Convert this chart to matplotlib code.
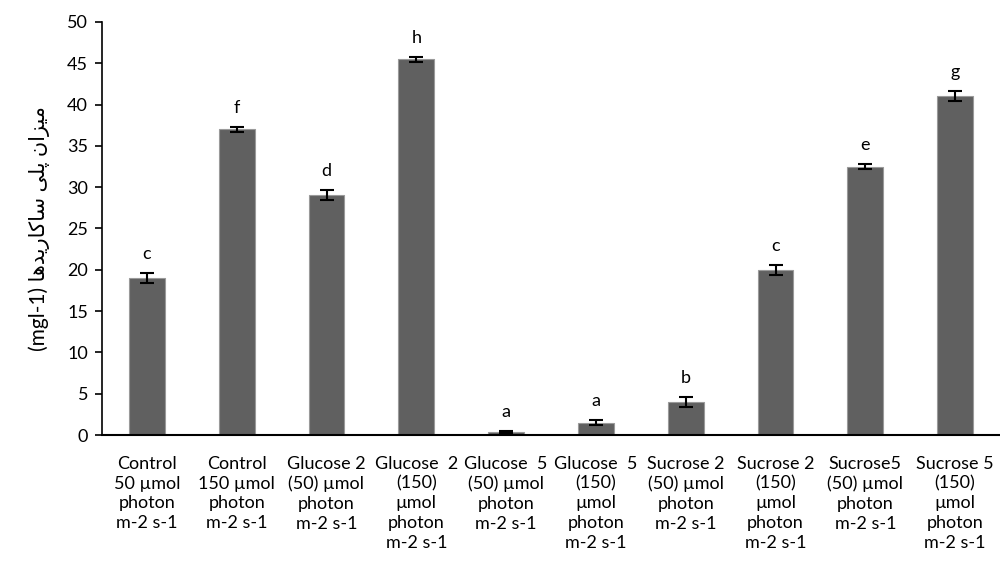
import matplotlib
matplotlib.use("Agg")
import matplotlib.pyplot as plt
import numpy as np

categories = [
    "Control\n50 µmol\nphoton\nm-2 s-1",
    "Control\n150 µmol\nphoton\nm-2 s-1",
    "Glucose 2\n(50) µmol\nphoton\nm-2 s-1",
    "Glucose  2\n(150)\nµmol\nphoton\nm-2 s-1",
    "Glucose  5\n(50) µmol\nphoton\nm-2 s-1",
    "Glucose  5\n(150)\nµmol\nphoton\nm-2 s-1",
    "Sucrose 2\n(50) µmol\nphoton\nm-2 s-1",
    "Sucrose 2\n(150)\nµmol\nphoton\nm-2 s-1",
    "Sucrose5\n(50) µmol\nphoton\nm-2 s-1",
    "Sucrose 5\n(150)\nµmol\nphoton\nm-2 s-1",
]
values = [19.0, 37.0, 29.0, 45.5, 0.4, 1.5, 4.0, 20.0, 32.5, 41.0]
errors = [0.6, 0.3, 0.6, 0.3, 0.1, 0.3, 0.6, 0.6, 0.3, 0.6]
letters = ["c", "f", "d", "h", "a", "a", "b", "c", "e", "g"]

# Persian y-label, pre-shaped with presentation forms in visual (LTR) order
w_mizan = "\uFEE5\uFE8D\uFEB0\uFBFF\uFEE3"
w_poli = "\uFBFD\uFEE0\uFB58"
w_sakarid = "\uFE8E\uFEEB\uFEAA\uFBFE\uFEAD\uFE8E\uFB90\uFE8E\uFEB3"
ylabel = "(mgl-1) " + w_sakarid + " " + w_poli + " " + w_mizan

plt.rcParams['font.family'] = ['Lato', 'DejaVu Sans']

fig = plt.figure(figsize=(10, 5.77), dpi=100)
ax = fig.add_axes([0.102, 0.246, 0.898, 0.716])

x = np.arange(len(values))
ax.bar(x, values, width=0.4, color="#606060", edgecolor="#9a9a9a", linewidth=0.8, zorder=2)
ax.errorbar(x, values, yerr=errors, fmt="none", ecolor="black", elinewidth=1.5,
            capsize=5, capthick=1.5, zorder=3)
for xi, v, e, l in zip(x, values, errors, letters):
    ax.annotate(l, (xi, v + e), xytext=(0, 8), textcoords="offset points",
                ha="center", va="bottom", fontsize=13)

ax.set_xlim(-0.5, len(values) - 0.5)
ax.set_ylim(0, 50)
ax.set_yticks(np.arange(0, 51, 5))
ax.set_xticks(x)
ax.set_xticklabels(categories, fontsize=13, linespacing=1.28)
ax.tick_params(axis="x", length=0, pad=15)
ax.tick_params(axis="y", length=5, width=1.2, labelsize=13, pad=5)
for s in ["top", "right"]:
    ax.spines[s].set_visible(False)
ax.spines["left"].set_linewidth(1.2)
ax.spines["bottom"].set_linewidth(1.5)
ax.set_ylabel(ylabel, fontsize=15, labelpad=12)

fig.savefig("out.png", dpi=100)
